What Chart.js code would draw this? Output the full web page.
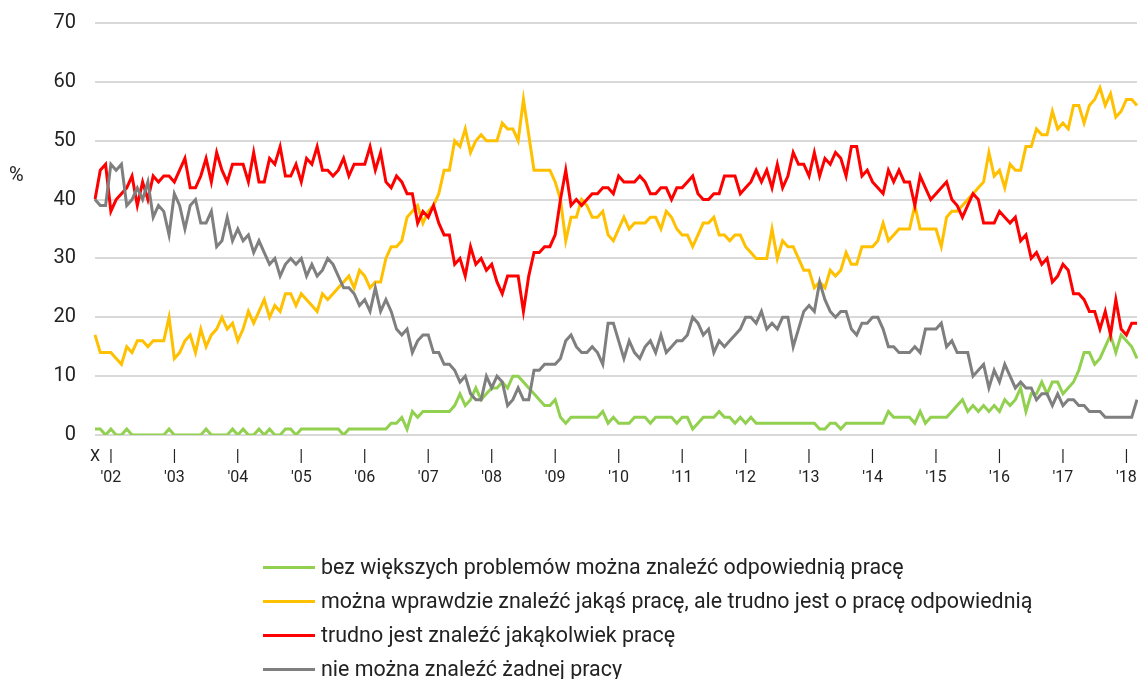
<!DOCTYPE html>
<html>
<head>
<meta charset="utf-8">
<script src="https://cdn.jsdelivr.net/npm/chart.js@4/dist/chart.umd.min.js"></script>
<style>
  html, body { margin: 0; padding: 0; background: #fff; overflow: hidden; }
  #wrap { position: relative; width: 1138px; height: 679px; overflow: hidden; font-family: Roboto, "Open Sans", sans-serif; }
  #c { position: absolute; left: 0; top: 0; }
  #pct { position: absolute; left: 9px; top: 162px; font-size: 20px; color: #222; }
  #legend { position: absolute; left: 263px; top: 550px; }
  .row { display: flex; align-items: center; height: 34px; }
  .swatch { width: 52px; height: 3px; margin-right: 6px; }
  .txt { font-size: 21.4px; line-height: 34px; color: #222; white-space: nowrap; }
</style>
</head>
<body>
<div id="wrap">
  <canvas id="c" width="1138" height="679"></canvas>
  <div id="pct">%</div>
  <div id="legend"></div>
</div>
<script>
// Tick labels
const firstLabel = "X";
const yearLabels = ["'02","'03","'04","'05","'06","'07","'08","'09","'10","'11","'12","'13","'14","'15","'16","'17","'18"];
const monthCount = 198; // X 2001 .. III 2018, monthly

// Series (percent)
const seriesNames = [
  "bez większych problemów można znaleźć odpowiednią pracę",
  "można wprawdzie znaleźć jakąś pracę, ale trudno jest o pracę odpowiednią",
  "trudno jest znaleźć jakąkolwiek pracę",
  "nie można znaleźć żadnej pracy"
];
const seriesColors = ["#92d050", "#ffc000", "#ff0000", "#7f7f7f"];

const green = [
  1,1,0,1,0,0,1,0,0,0, 0,0,0,0,1,0,0,0,0,0, 0,1,0,0,0,0,1,0,1,0, 0,1,0,1,0,0,
  1,1,0,1,1,1,1,1,1,1, 1,0,1,1,1,1,1,1,1,1, 2,2,3,1,4,3,4,4,4,4, 4,4,5,7,5,6,
  8,6,7,8,8,9,8,10,10,9, 8,7,6,5,5,6,3,2,3,3, 3,3,3,3,4,2,3,2,2,2, 3,3,3,2,3,3,
  3,3,2,3,3,1,2,3,3,3, 4,3,3,2,3,2,3,2,2,2, 2,2,2,2,2,2,2,2,2,1, 1,2,2,1,2,2,
  2,2,2,2,2,2,4,3,3,3, 3,2,4,2,3,3,3,3,4,5, 6,4,5,4,5,4,5,4,6,5, 6,8,4,7,7,9,
  7,9,9,7,8,9,11,14,14,12,13,15,17,14,17,16,15,13
];
const yellow = [
  17,14,14,14,13,12,15,14,16,16, 15,16,16,16,20,13,14,16,17,14, 18,15,17,18,20,18,19,16,18,21, 19,21,23,20,22,21,
  24,24,22,24,23,22,21,24,23,24, 25,26,27,25,28,27,25,26,26,30, 32,32,33,37,38,39,36,38,39,41, 45,45,50,49,52,48,
  50,51,50,50,50,53,52,52,50,57, 51,45,45,45,45,43,40,33,37,37, 40,39,37,37,38,34,33,35,37,35, 36,36,36,37,37,35,
  38,37,35,34,34,32,34,36,36,37, 34,34,33,34,34,32,31,30,30,30, 35,30,33,32,32,30,28,28,25,26, 25,28,27,28,31,29,
  29,32,32,32,33,36,33,34,35,35, 35,39,35,35,35,35,32,37,38,38, 39,40,41,42,43,48,44,45,42,46, 45,45,49,49,52,51,
  51,55,52,53,52,56,56,53,56,57,59,56,58,54,55,57,57,56
];
const red = [
  40,45,46,38,40,41,42,44,39,43, 40,44,43,44,44,43,45,47,42,42, 44,47,43,48,45,43,46,46,46,43, 48,43,43,47,46,49,
  44,44,46,43,47,46,49,45,45,44, 45,47,44,46,46,46,49,45,48,43, 42,44,43,41,41,36,38,37,39,36, 34,34,29,30,27,32,
  29,30,28,29,26,24,27,27,27,21, 27,31,31,32,32,34,40,45,39,40, 39,40,41,41,42,42,41,44,43,43, 43,44,43,41,41,42,
  42,40,42,42,43,44,41,40,40,41, 41,44,44,44,41,42,43,45,43,45, 42,46,42,44,48,46,46,44,48,44, 47,46,48,47,44,49,
  49,44,45,43,42,41,45,43,45,43, 43,39,44,42,40,41,42,43,40,39, 37,39,41,40,36,36,36,38,37,36, 37,33,34,30,31,29,
  30,26,27,29,28,24,24,23,21,21,18,21,17,23,18,17,19,19
];
const gray = [
  40,39,39,46,45,46,39,40,42,40, 43,37,39,38,34,41,39,35,39,40, 36,36,38,32,33,37,33,35,33,34, 31,33,31,29,30,27,
  29,30,29,30,27,29,27,28,30,29, 27,25,25,24,22,23,21,25,21,23, 21,18,17,18,14,16,17,17,14,14, 12,12,11,9,10,7,
  6,6,10,8,10,9,5,6,8,6, 6,11,11,12,12,12,13,16,17,15, 14,14,15,14,12,19,19,16,13,16, 14,13,15,16,14,17,
  14,15,16,16,17,20,19,17,18,14, 16,15,16,17,18,20,20,19,21,18, 19,18,20,20,15,18,21,22,21,26, 23,21,20,21,21,18,
  17,19,19,20,20,18,15,15,14,14, 14,15,14,18,18,18,19,15,16,14, 14,14,10,11,12,8,11,9,12,10, 8,9,8,8,6,7,
  7,5,7,5,6,6,5,5,4,4,4,3,3,3,3,3,3,6
];

// category labels: X at first month, "|" + year under each January
const labels = [];
for (let i = 0; i < monthCount; i++) {
  if (i === 0) labels.push(firstLabel);
  else if ((i - 3) % 12 === 0 && (i - 3) / 12 < yearLabels.length) labels.push(["|", yearLabels[(i - 3) / 12]]);
  else labels.push("");
}

const values = [green, yellow, red, gray];
const datasets = values.map((v, k) => ({
  label: seriesNames[k],
  data: v,
  borderColor: seriesColors[k],
  backgroundColor: seriesColors[k],
  borderWidth: 3,
  pointRadius: 0,
  pointHoverRadius: 0,
  tension: 0,
  fill: false,
  order: 3 - k
}));

const chart = new Chart(document.getElementById('c'), {
  type: 'line',
  data: { labels, datasets },
  options: {
    responsive: false,
    maintainAspectRatio: false,
    devicePixelRatio: 1,
    animation: false,
    layout: { autoPadding: false, padding: { top: 23, right: 1, bottom: 184, left: 0 } },
    plugins: { legend: { display: false }, tooltip: { enabled: false } },
    scales: {
      x: {
        grid: { display: false, drawTicks: false },
        border: { display: false },
        ticks: {
          autoSkip: false, maxRotation: 0, minRotation: 0, padding: 11,
          color: '#222', font: { family: 'Roboto', size: 16, lineHeight: 1.3125 }
        },
        afterFit(s) { s.height = 60; s.paddingLeft = 0; s.paddingRight = 0; }
      },
      y: {
        min: 0, max: 70,
        grid: { color: '#d9d9d9', lineWidth: 2, drawTicks: false },
        border: { display: false },
        ticks: { stepSize: 10, padding: 19, color: '#222', font: { family: 'Roboto', size: 20 } },
        afterFit(s) { s.width = 95; s.paddingTop = 0; s.paddingBottom = 0; }
      }
    }
  }
});

// HTML legend built from the chart's datasets
const leg = document.getElementById('legend');
chart.data.datasets.forEach(ds => {
  const row = document.createElement('div'); row.className = 'row';
  const sw = document.createElement('div'); sw.className = 'swatch'; sw.style.background = ds.borderColor;
  const tx = document.createElement('div'); tx.className = 'txt'; tx.textContent = ds.label;
  row.appendChild(sw); row.appendChild(tx); leg.appendChild(row);
});
</script>
</body>
</html>
